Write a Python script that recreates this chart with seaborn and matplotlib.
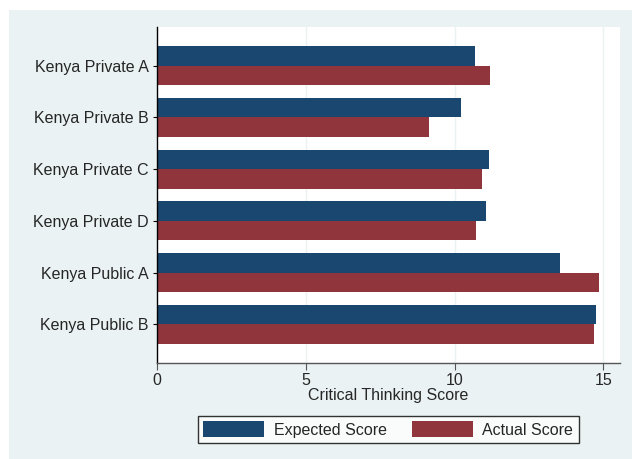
import matplotlib
matplotlib.use("Agg")
import matplotlib.pyplot as plt
import matplotlib.patches as mpatches
import seaborn as sns
import pandas as pd

schools = ["Kenya Private A", "Kenya Private B", "Kenya Private C",
           "Kenya Private D", "Kenya Public A", "Kenya Public B"]
expected = [10.68, 10.20, 11.15, 11.04, 13.54, 14.74]
actual = [11.18, 9.13, 10.91, 10.71, 14.85, 14.70]
series = ["Expected Score", "Actual Score"]
colors = ["#1a476f", "#90353b"]
bg = "#eaf2f3"

df = pd.DataFrame({
    "school": schools * 2,
    "score": expected + actual,
    "series": [series[0]] * len(schools) + [series[1]] * len(schools),
})

sns.set_style("white")
plt.rcParams["font.family"] = ["Liberation Sans", "DejaVu Sans"]
fs = 11.5

fig = plt.figure(figsize=(6.32, 4.59), dpi=100)
fig.patch.set_facecolor("white")
fig.patches.append(mpatches.Rectangle((9 / 632, 0), 1, 449 / 459,
                                      transform=fig.transFigure,
                                      facecolor=bg, edgecolor="none", zorder=-10))

ax = fig.add_axes([157.3 / 632, 1 - 363.3 / 459, (620 - 157.3) / 632, (363.3 - 26.7) / 459])
ax.set_facecolor("white")

sns.barplot(data=df, y="school", x="score", hue="series", orient="h",
            palette=colors, width=0.75, saturation=1, ax=ax, legend=False,
            edgecolor="none", linewidth=0)

ax.set_xlim(0, 15.56)
ax.set_ylim(5.75, -0.75)
ax.set_xticks([0, 5, 10, 15])
ax.set_xticklabels(["0", "5", "10", "15"], fontsize=fs)
ax.tick_params(axis="y", labelsize=fs, length=3, color="black", left=True, pad=3)
ax.tick_params(axis="x", length=5, color="#555555", bottom=True, pad=2)
for v in [5, 10, 15]:
    ax.axvline(v, color=bg, linewidth=1, zorder=0)
ax.set_ylabel("")
ax.set_xlabel("Critical Thinking Score", fontsize=fs, labelpad=0)

for s in ["top", "right"]:
    ax.spines[s].set_visible(False)
ax.spines["left"].set_color("black")
ax.spines["left"].set_linewidth(1)
ax.spines["bottom"].set_color("#555555")
ax.spines["bottom"].set_linewidth(1)

handles = [mpatches.Patch(facecolor=c, edgecolor="none", label=l) for c, l in zip(colors, series)]
leg = fig.legend(handles=handles, loc="center", bbox_to_anchor=(388.3 / 632, 29.5 / 459),
                 ncol=2, frameon=True, fancybox=False, fontsize=fs,
                 handlelength=3.8, handleheight=1.1, handletextpad=0.6,
                 columnspacing=1.6, borderpad=0.35, borderaxespad=0)
leg.get_frame().set_edgecolor("black")
leg.get_frame().set_linewidth(1)
leg.get_frame().set_facecolor("white")

plt.savefig("out.png", dpi=100)
plt.close()
